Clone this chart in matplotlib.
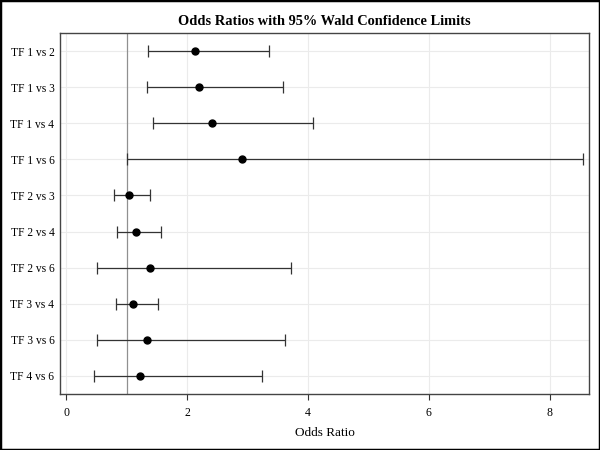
import matplotlib
matplotlib.use('Agg')
import matplotlib.pyplot as plt
import numpy as np

plt.rcParams['font.family'] = ['Liberation Serif', 'DejaVu Serif']

# Data
labels = ['TF 1 vs 2', 'TF 1 vs 3', 'TF 1 vs 4', 'TF 1 vs 6', 'TF 2 vs 3',
          'TF 2 vs 4', 'TF 2 vs 6', 'TF 3 vs 4', 'TF 3 vs 6', 'TF 4 vs 6']
odds = [2.13, 2.19, 2.41, 2.91, 1.04, 1.15, 1.38, 1.11, 1.33, 1.21]
lower = [1.35, 1.33, 1.43, 1.00, 0.78, 0.84, 0.51, 0.82, 0.50, 0.46]
upper = [3.35, 3.59, 4.08, 8.55, 1.39, 1.57, 3.71, 1.51, 3.61, 3.23]

y = np.arange(len(labels))
odds = np.array(odds)
err = [odds - np.array(lower), np.array(upper) - odds]

fig = plt.figure(figsize=(6, 4.5), dpi=100)
ax = fig.add_axes([0.1, 0.1244, 0.8817, 0.8023])

# grid
for yi in y:
    ax.axhline(yi, color='#ebebeb', lw=0.8, zorder=0)
for xt in [0, 2, 4, 6, 8]:
    ax.axvline(xt, color='#ebebeb', lw=0.8, zorder=0)

# reference line at 1
ax.axvline(1, color='#909090', lw=0.9, zorder=1)

ax.errorbar(odds, y, xerr=err, fmt='o', color='black', ecolor='#333333',
            elinewidth=0.9, capsize=4, capthick=0.9, markersize=5, zorder=3)

ax.set_xlim(-0.106, 8.65)
ax.set_ylim(9.5, -0.5)
ax.set_yticks(y)
ax.set_yticklabels(labels, fontsize=8.3)
ax.set_xticks([0, 2, 4, 6, 8])
ax.tick_params(axis='x', labelsize=8.5, length=4, color='#333333', pad=5)
ax.tick_params(axis='y', length=0, pad=4)
ax.set_xlabel('Odds Ratio', fontsize=9.5, labelpad=6)
ax.set_title('Odds Ratios with 95% Wald Confidence Limits', fontsize=10.4,
             fontweight='bold', pad=6)
for s in ax.spines.values():
    s.set_color('#444444')
    s.set_linewidth(1.0)

# figure border
fig.patches.append(plt.Rectangle((0, 0), 1, 1, transform=fig.transFigure,
                                 fill=False, edgecolor='black', lw=2.5))

fig.savefig('out.png', dpi=100)
